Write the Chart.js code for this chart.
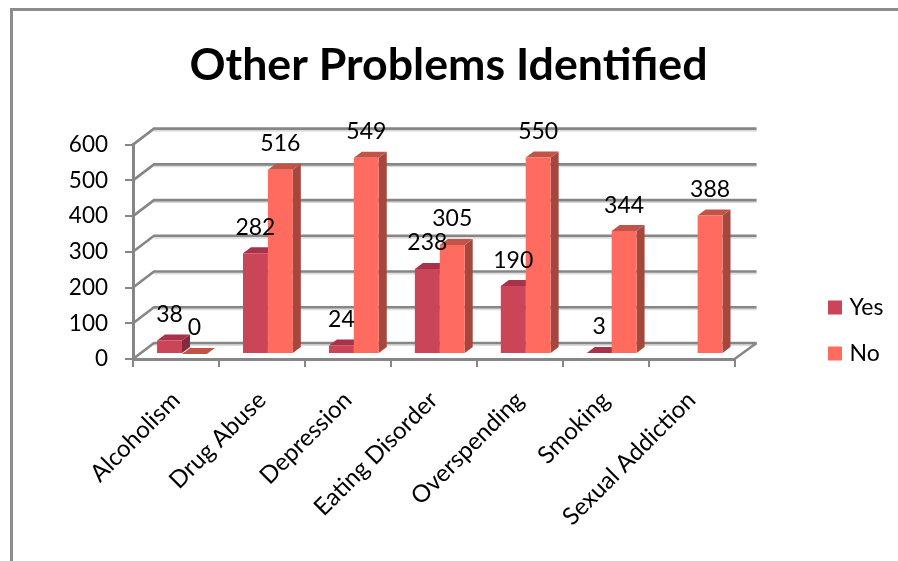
<!DOCTYPE html>
<html>
<head>
<meta charset="utf-8">
<title>Other Problems Identified</title>
<script src="https://cdn.jsdelivr.net/npm/chart.js@4"></script>
<style>
  body { margin: 0; background: #fff; }
  canvas { display: block; }
</style>
</head>
<body>
<canvas id="chart" width="898" height="561"></canvas>
<script>
const categories = ["Alcoholism", "Drug Abuse", "Depression", "Eating Disorder", "Overspending", "Smoking", "Sexual Addiction"];
const yesValues = [38, 282, 24, 238, 190, 3, null];
const noValues = [0, 516, 549, 305, 550, 344, 388];

const FONT = "Lato, sans-serif";
const GRID = "#868686";
// faux 3D: how far the back wall sits from the front axes, and how deep a bar is
const WALL = { x: 21, y: -16 };
const DEPTH = { x: 8, y: -6 };
const BAR_SHIFT = { x: 6, y: -5 };
const FACES = [
  { top: "#a8324a", side: "#86293a" },
  { top: "#c25347", side: "#a5473d" },
];

function line(ctx, pts, color, width) {
  ctx.beginPath();
  pts.forEach((p, i) => (i ? ctx.lineTo(p[0], p[1]) : ctx.moveTo(p[0], p[1])));
  ctx.strokeStyle = color;
  ctx.lineWidth = width;
  ctx.stroke();
}

function poly(ctx, pts, color) {
  ctx.beginPath();
  pts.forEach((p, i) => (i ? ctx.lineTo(p[0], p[1]) : ctx.moveTo(p[0], p[1])));
  ctx.closePath();
  ctx.fillStyle = color;
  ctx.fill();
}

const fake3d = {
  id: "fake3d",
  beforeDraw(chart) {
    // outer frame of the pasted chart
    const ctx = chart.ctx;
    ctx.fillStyle = "#8c8c8c";
    ctx.fillRect(10, 8, 888, 3);
    ctx.fillRect(10, 8, 3, 553);
  },
  afterLayout(chart) {
    // legend sits well away from the plot, title centres on the whole page
    const lg = chart.legend;
    const w = lg.width;
    const h = lg.height;
    lg.left = 809;
    lg.right = 809 + w;
    lg.top = 273;
    lg.bottom = 273 + h;
    chart.titleBlock.left = 0;
    chart.titleBlock.right = 897;
  },
  beforeDatasetsDraw(chart) {
    const ctx = chart.ctx;
    const { left, right } = chart.chartArea;
    const yScale = chart.scales.y;

    ctx.save();
    yScale.ticks.forEach((t) => {
      const y = yScale.getPixelForValue(t.value);
      line(ctx, [[left + WALL.x, y + WALL.y + 2], [right + WALL.x + 1, y + WALL.y + 2]], "#dcdcdc", 2);
      line(ctx, [[left, y], [left + WALL.x, y + WALL.y], [right + WALL.x + 1, y + WALL.y]], GRID, 2.6);
    });
    const y0 = yScale.getPixelForValue(0);
    line(ctx, [[right, y0], [right + WALL.x + 1, y0 + WALL.y]], GRID, 2.6);

    ctx.translate(BAR_SHIFT.x, BAR_SHIFT.y);
    chart.data.datasets.forEach((ds, di) => {
      const bars = chart.getDatasetMeta(di).data;
      bars.forEach((el, i) => {
        if (ds.data[i] === null) return;
        const x1 = el.x - el.width / 2;
        const x2 = el.x + el.width / 2;
        const d = DEPTH;
        poly(ctx, [[x2, el.y], [x2 + d.x, el.y + d.y], [x2 + d.x, el.base + d.y], [x2, el.base]], FACES[di].side);
        poly(ctx, [[x1, el.y], [x2, el.y], [x2 + d.x, el.y + d.y], [x1 + d.x, el.y + d.y]], FACES[di].top);
      });
    });
    ctx.restore();
  },
  beforeDatasetDraw(chart) {
    chart.ctx.save();
    chart.ctx.translate(BAR_SHIFT.x, BAR_SHIFT.y);
  },
  afterDatasetDraw(chart) {
    chart.ctx.restore();
  },
  afterDatasetsDraw(chart) {
    const ctx = chart.ctx;
    ctx.save();
    ctx.font = "23px " + FONT;
    ctx.fillStyle = "#000";
    ctx.textAlign = "center";
    ctx.textBaseline = "middle";
    chart.data.datasets.forEach((ds, di) => {
      chart.getDatasetMeta(di).data.forEach((el, i) => {
        if (ds.data[i] === null) return;
        ctx.fillText(String(ds.data[i]), el.x + BAR_SHIFT.x, el.y + BAR_SHIFT.y - 26);
      });
    });
    ctx.restore();
  },
};

new Chart(document.getElementById("chart"), {
  type: "bar",
  plugins: [fake3d],
  data: {
    labels: categories,
    datasets: [
      { label: "Yes", data: yesValues, backgroundColor: "#cb4559" },
      { label: "No", data: noValues, backgroundColor: "#ff6b5e" },
    ],
  },
  options: {
    responsive: false,
    animation: false,
    categoryPercentage: 0.58,
    barPercentage: 1,
    layout: { padding: { right: 79 } },
    plugins: {
      tooltip: { enabled: false },
      title: {
        display: true,
        text: "Other Problems Identified",
        color: "#000",
        font: { family: FONT, size: 44.7, weight: "bold", lineHeight: 1.2 },
        padding: { top: 39, bottom: 52 },
      },
      legend: {
        position: "right",
        align: "start",
        labels: {
          color: "#000",
          // small box with a thick stroke keeps the text close to the swatch
          boxWidth: 6,
          boxHeight: 6,
          padding: 23,
          font: { family: FONT, size: 23 },
          generateLabels: (chart) =>
            Chart.defaults.plugins.legend.labels.generateLabels(chart).map((l) => ({
              ...l,
              lineWidth: 8,
              strokeStyle: l.fillStyle,
            })),
        },
      },
    },
    scales: {
      x: {
        afterFit: (s) => { s.height = 202; },
        border: { color: GRID, width: 3 },
        grid: { drawOnChartArea: false, color: GRID, lineWidth: 2, tickLength: 8 },
        ticks: {
          color: "#000",
          minRotation: 45,
          maxRotation: 45,
          autoSkip: false,
          padding: 19,
          font: { family: FONT, size: 24 },
        },
      },
      y: {
        min: 0,
        max: 600,
        afterFit: (s) => { s.width = 133; },
        border: { color: GRID, width: 3 },
        grid: { drawOnChartArea: false, color: GRID, lineWidth: 2, tickLength: 8 },
        ticks: {
          color: "#000",
          stepSize: 100,
          padding: 17,
          font: { family: FONT, size: 22.5 },
        },
      },
    },
  },
});
</script>
</body>
</html>
